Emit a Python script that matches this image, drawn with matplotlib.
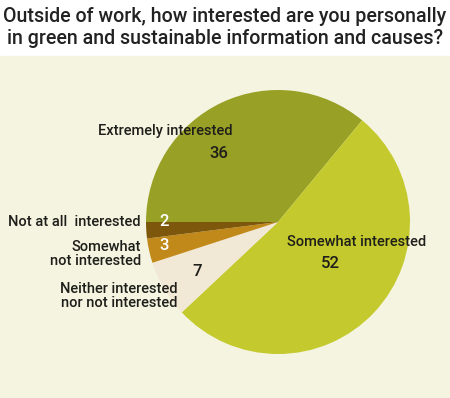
import matplotlib
matplotlib.use("Agg")
import matplotlib.pyplot as plt
from matplotlib.patches import Rectangle

# Survey answers, clockwise from 9 o'clock
labels = ["Extremely interested", "Somewhat interested", "Neither interested\nnor not interested",
          "Somewhat\nnot interested", "Not at all  interested"]
values = [36, 52, 7, 3, 2]
colours = ["#98a026", "#c4ca2e", "#f2e8d6", "#c1891a", "#7d580c"]
title = "Outside of work, how interested are you personally\nin green and sustainable information and causes?"

W, H = 450, 398
plt.rcParams['font.family'] = ['Roboto', 'DejaVu Sans']

fig = plt.figure(figsize=(W / 100, H / 100), dpi=100)
ax = fig.add_axes([0, 0, 1, 1])

# cream panel under the title
ax.add_patch(Rectangle((0, 0), W, H - 56, color="#f4f4e0", zorder=0))

cx, cy, r = 278, H - 222, 132
ax.pie(values, colors=colours, startangle=180, counterclock=False,
       center=(cx, cy), radius=r, frame=True,
       wedgeprops=dict(linewidth=0))
ax.set_xlim(0, W)
ax.set_ylim(0, H)
ax.set_aspect('equal')
ax.axis('off')

fig.text(0.5, 1 - 28 / H, title, ha='center', va='center', fontsize=14.1,
         fontweight='medium', color="#222222", linespacing=1.2)

tc = "#1e1e1a"
fs = 10.5
nfs = 12
kw = dict(va='center', fontsize=fs, color=tc, fontweight='medium', linespacing=1.0)
nkw = dict(ha='center', va='center', fontsize=nfs, fontweight='medium')
# category labels (pixel positions from the top-left)
ax.text(165, H - 131, labels[0], ha='center', **kw)
ax.text(219, H - 154, str(values[0]), color=tc, **nkw)
ax.text(357, H - 242, labels[1], ha='center', **kw)
ax.text(330, H - 264, str(values[1]), color=tc, **nkw)
ax.text(119, H - 296, labels[2], ha='center', **kw)
ax.text(197, H - 272, str(values[2]), color=tc, **nkw)
ax.text(141, H - 254, labels[3], ha='right', **kw)
ax.text(164, H - 246, str(values[3]), color="white", **nkw)
ax.text(140, H - 222, labels[4], ha='right', **kw)
ax.text(164, H - 222, str(values[4]), color="white", **nkw)

fig.savefig("out.png", dpi=100, facecolor="white")
